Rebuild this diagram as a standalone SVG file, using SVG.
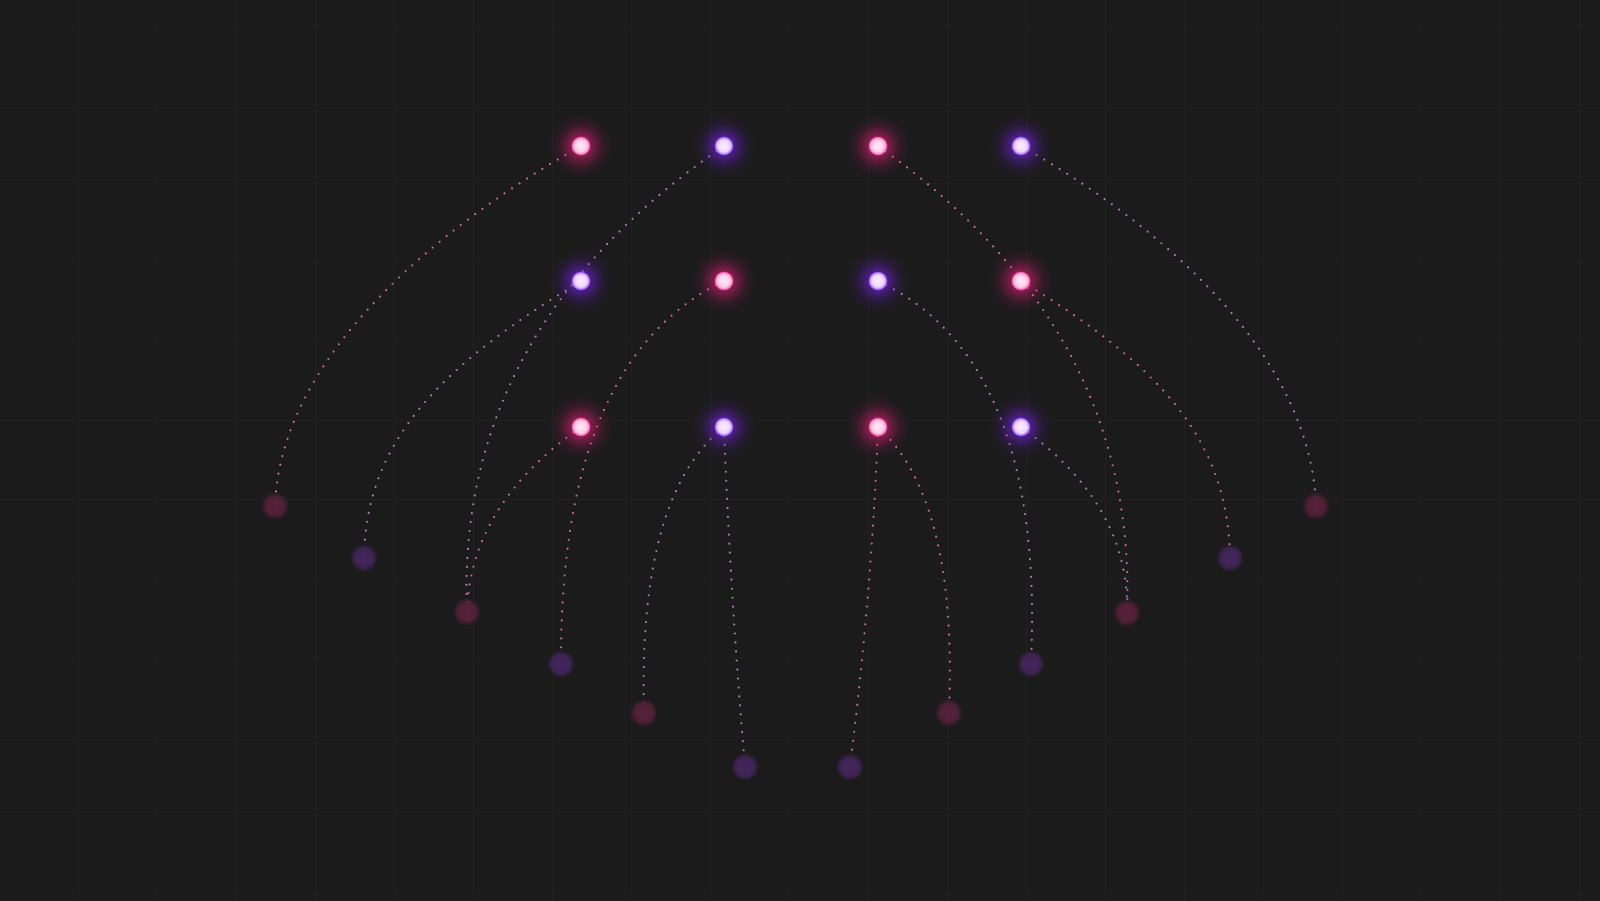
<svg xmlns="http://www.w3.org/2000/svg" width="1600" height="901" viewBox="0 0 1600 901">
<defs>
<pattern id="grid" x="-1" y="25" width="79" height="79" patternUnits="userSpaceOnUse">
<path d="M0 0.5H79M0.5 0V79" stroke="#202020" stroke-width="1.2" fill="none"/>
</pattern>
<radialGradient id="glowP"><stop offset="0" stop-color="#ff2f93" stop-opacity="0.8"/><stop offset="0.35" stop-color="#ff1f86" stop-opacity="0.42"/><stop offset="0.7" stop-color="#d81a72" stop-opacity="0.12"/><stop offset="1" stop-color="#d81a72" stop-opacity="0"/></radialGradient>
<radialGradient id="glowV"><stop offset="0" stop-color="#8a2bff" stop-opacity="0.85"/><stop offset="0.35" stop-color="#7a22f0" stop-opacity="0.45"/><stop offset="0.7" stop-color="#6a1ad0" stop-opacity="0.12"/><stop offset="1" stop-color="#6a1ad0" stop-opacity="0"/></radialGradient>
<radialGradient id="coreP"><stop offset="0" stop-color="#ffeaf5"/><stop offset="0.65" stop-color="#ffcde9"/><stop offset="0.88" stop-color="#ff7abd"/><stop offset="1" stop-color="#ff3d9c" stop-opacity="0.5"/></radialGradient>
<radialGradient id="coreV"><stop offset="0" stop-color="#faeeff"/><stop offset="0.65" stop-color="#eed6ff"/><stop offset="0.88" stop-color="#b27aff"/><stop offset="1" stop-color="#8d3cff" stop-opacity="0.5"/></radialGradient>
<radialGradient id="endP"><stop offset="0" stop-color="#57233c"/><stop offset="0.65" stop-color="#4e2036"/><stop offset="1" stop-color="#4e2036" stop-opacity="0"/></radialGradient>
<radialGradient id="endV"><stop offset="0" stop-color="#44275e"/><stop offset="0.65" stop-color="#3e2454"/><stop offset="1" stop-color="#3e2454" stop-opacity="0"/></radialGradient>
</defs>
<style>
.bg{fill:#1b1b1b}
.c{fill:none;stroke-width:2.2;stroke-linecap:round;stroke-dasharray:0 9}
.cp{stroke:#cc6a92}
.cv{stroke:#a680ad}
.gp{fill:url(#glowP)}
.gv{fill:url(#glowV)}
.kp{fill:url(#coreP)}
.kv{fill:url(#coreV)}
.ep{fill:url(#endP)}
.ev{fill:url(#endV)}
</style>
<rect class="bg" x="0" y="0" width="1600" height="901"/>
<rect x="0" y="0" width="1600" height="901" fill="url(#grid)"/>

<g id="connectors">
<path class="c cp" d="M581,146 C431,231 280,360 275,506"/>
<path class="c cv" d="M724,146 Q455,330 467,612"/>
<path class="c cp" d="M878,146 Q1138,330 1127,613"/>
<path class="c cv" d="M1021,146 C1171,231 1311,360 1316,506"/>
<path class="c cv" d="M581,281 C441,366 366,440 364,558"/>
<path class="c cp" d="M724,281 Q560,360 561,664"/>
<path class="c cv" d="M878,281 Q1045,360 1031,664"/>
<path class="c cp" d="M1021,281 C1161,366 1228,440 1230,558"/>
<path class="c cp" d="M581,427 Q470,505 467,612"/>
<path class="c cv" d="M724,427 Q638,495 644,713"/>
<path class="c cv" d="M724,427 Q730,590 745,767"/>
<path class="c cp" d="M878,427 Q872,590 850,767"/>
<path class="c cp" d="M878,427 Q958,500 949,713"/>
<path class="c cv" d="M1021,427 Q1130,505 1127,613"/>
</g>

<g id="end-1"><circle class="ep" cx="275" cy="506" r="14"/></g>
<g id="end-2"><circle class="ev" cx="364" cy="558" r="14"/></g>
<g id="end-3"><circle class="ep" cx="467" cy="612" r="14"/></g>
<g id="end-4"><circle class="ev" cx="561" cy="664" r="14"/></g>
<g id="end-5"><circle class="ep" cx="644" cy="713" r="14"/></g>
<g id="end-6"><circle class="ev" cx="745" cy="767" r="14"/></g>
<g id="end-7"><circle class="ev" cx="850" cy="767" r="14"/></g>
<g id="end-8"><circle class="ep" cx="949" cy="713" r="14"/></g>
<g id="end-9"><circle class="ev" cx="1031" cy="664" r="14"/></g>
<g id="end-10"><circle class="ep" cx="1127" cy="613" r="14"/></g>
<g id="end-11"><circle class="ev" cx="1230" cy="558" r="14"/></g>
<g id="end-12"><circle class="ep" cx="1316" cy="506" r="14"/></g>

<g id="node-r1c1"><circle class="gp" cx="581" cy="146" r="32"/><circle class="kp" cx="581" cy="146" r="9.5"/></g>
<g id="node-r1c2"><circle class="gv" cx="724" cy="146" r="32"/><circle class="kv" cx="724" cy="146" r="9.5"/></g>
<g id="node-r1c3"><circle class="gp" cx="878" cy="146" r="32"/><circle class="kp" cx="878" cy="146" r="9.5"/></g>
<g id="node-r1c4"><circle class="gv" cx="1021" cy="146" r="32"/><circle class="kv" cx="1021" cy="146" r="9.5"/></g>
<g id="node-r2c1"><circle class="gv" cx="581" cy="281" r="32"/><circle class="kv" cx="581" cy="281" r="9.5"/></g>
<g id="node-r2c2"><circle class="gp" cx="724" cy="281" r="32"/><circle class="kp" cx="724" cy="281" r="9.5"/></g>
<g id="node-r2c3"><circle class="gv" cx="878" cy="281" r="32"/><circle class="kv" cx="878" cy="281" r="9.5"/></g>
<g id="node-r2c4"><circle class="gp" cx="1021" cy="281" r="32"/><circle class="kp" cx="1021" cy="281" r="9.5"/></g>
<g id="node-r3c1"><circle class="gp" cx="581" cy="427" r="32"/><circle class="kp" cx="581" cy="427" r="9.5"/></g>
<g id="node-r3c2"><circle class="gv" cx="724" cy="427" r="32"/><circle class="kv" cx="724" cy="427" r="9.5"/></g>
<g id="node-r3c3"><circle class="gp" cx="878" cy="427" r="32"/><circle class="kp" cx="878" cy="427" r="9.5"/></g>
<g id="node-r3c4"><circle class="gv" cx="1021" cy="427" r="32"/><circle class="kv" cx="1021" cy="427" r="9.5"/></g>
</svg>
